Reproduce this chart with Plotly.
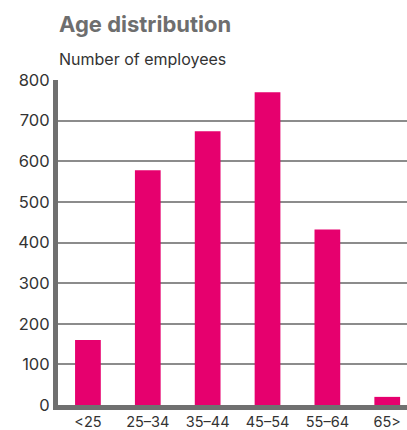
import plotly.graph_objects as go

age_groups = ["<25", "25–34", "35–44", "45–54", "55–64", "65>"]
employees = [160, 578, 674, 770, 432, 20]
y_ticks = [0, 100, 200, 300, 400, 500, 600, 700, 800]

fig = go.Figure(
    go.Bar(
        x=age_groups,
        y=employees,
        marker=dict(color="#e6006e", line=dict(width=0)),
        width=0.43,
    )
)

fig.update_layout(
    width=407,
    height=430,
    margin=dict(l=58, r=0, t=80, b=19),
    paper_bgcolor="white",
    plot_bgcolor="white",
    font=dict(family="Inter, Roboto, sans-serif", color="#333333"),
    showlegend=False,
    bargap=0.57,
    xaxis=dict(
        type="category",
        range=[-0.5, 5.33],
        showgrid=False,
        showline=True,
        linecolor="#707070",
        linewidth=5,
        ticks="",
        tickfont=dict(size=14.5, color="#333333"),
        fixedrange=True,
    ),
    yaxis=dict(
        range=[0, 800],
        tickvals=y_ticks,
        showgrid=True,
        gridcolor="#8c8c8c",
        gridwidth=1.5,
        showline=True,
        linecolor="#707070",
        linewidth=5,
        ticks="",
        zeroline=False,
        tickfont=dict(size=16.5, color="#333333"),
        fixedrange=True,
    ),
    annotations=[
        dict(
            text="<b>Age distribution</b>",
            xref="paper", yref="paper", x=-0.003, y=1,
            xanchor="left", yanchor="bottom", yshift=41,
            showarrow=False,
            font=dict(size=22, color="#6e6e6e"),
        ),
        dict(
            text="Number of employees",
            xref="paper", yref="paper", x=-0.003, y=1,
            xanchor="left", yanchor="bottom", yshift=9,
            showarrow=False,
            font=dict(size=16, color="#333333"),
        ),
    ],
)

fig.write_html("out.html")
